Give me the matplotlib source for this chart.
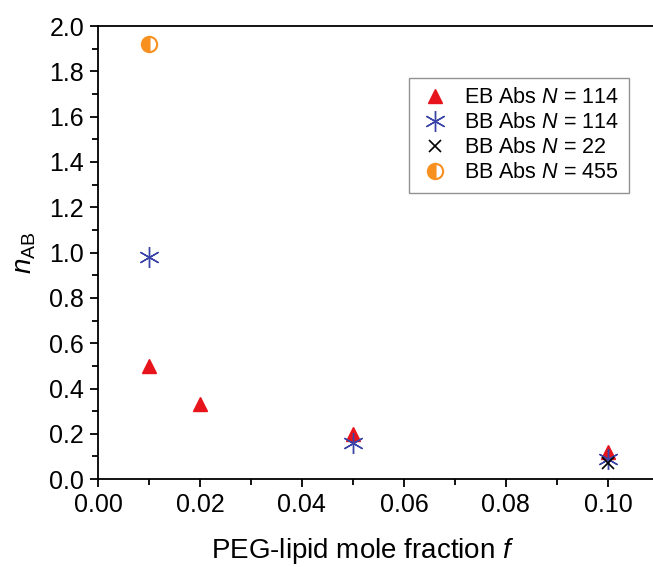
import matplotlib
matplotlib.use('Agg')
import matplotlib.pyplot as plt
from matplotlib.ticker import MultipleLocator

plt.rcParams['font.family'] = 'Liberation Sans'
plt.rcParams['mathtext.fontset'] = 'custom'
plt.rcParams['mathtext.rm'] = 'Liberation Sans'
plt.rcParams['mathtext.it'] = 'Liberation Sans:italic'

# data
f_eb114 = [0.01, 0.02, 0.05, 0.10]
n_eb114 = [0.50, 0.33, 0.20, 0.12]
f_bb114 = [0.01, 0.05, 0.10]
n_bb114 = [0.98, 0.16, 0.09]
f_bb22 = [0.10]
n_bb22 = [0.07]
f_bb455 = [0.01]
n_bb455 = [1.92]

fig = plt.figure(figsize=(6.53, 5.67), dpi=100)
ax = fig.add_axes([0.150, 0.155, 0.859, 0.799])

ax.plot(f_eb114, n_eb114, '^', color='#e8141c', ms=10, ls='none',
        label='EB Abs $N$ = 114')
ax.plot(f_bb114, n_bb114, marker=(6, 2, 0), color='#3a44a8', ms=15, mew=1.0,
        ls='none', label='BB Abs $N$ = 114')
ax.plot(f_bb22, n_bb22, 'x', color='black', ms=9, mew=1.2, ls='none',
        label='BB Abs $N$ = 22')
ax.plot(f_bb455, n_bb455, 'o', ms=11, ls='none', fillstyle='left',
        color='#f7901e', markerfacecoloralt='white', markeredgecolor='#f7901e',
        mew=1.5, label='BB Abs $N$ = 455')

ax.set_xlim(0, 0.11)
ax.set_ylim(0, 2.0)
ax.xaxis.set_major_locator(MultipleLocator(0.02))
ax.xaxis.set_minor_locator(MultipleLocator(0.01))
ax.yaxis.set_major_locator(MultipleLocator(0.2))
ax.yaxis.set_minor_locator(MultipleLocator(0.1))
ax.xaxis.set_major_formatter(plt.FormatStrFormatter('%.2f'))
ax.yaxis.set_major_formatter(plt.FormatStrFormatter('%.1f'))
ax.tick_params(which='both', direction='out', labelsize=18, width=1.3)
ax.tick_params(which='major', length=6, pad=4)
ax.tick_params(which='minor', length=4)
for s in ax.spines.values():
    s.set_linewidth(1.3)

ax.set_xlabel('PEG-lipid mole fraction $f$', fontsize=20)
ax.xaxis.set_label_coords(0.472, -0.126, transform=ax.transAxes)
ax.xaxis.label.set_va('top')
ax.set_ylabel('$n_{\\mathrm{AB}}$', fontsize=20, labelpad=8)

leg = ax.legend(loc='upper right', bbox_to_anchor=(0.946, 0.886), fontsize=15.5,
                frameon=True, fancybox=False, edgecolor='#777777',
                handletextpad=0.6, borderpad=0.45, labelspacing=0.18,
                handlelength=1.5, borderaxespad=0)
leg.get_frame().set_linewidth(1.0)

fig.savefig('out.png', dpi=100)
